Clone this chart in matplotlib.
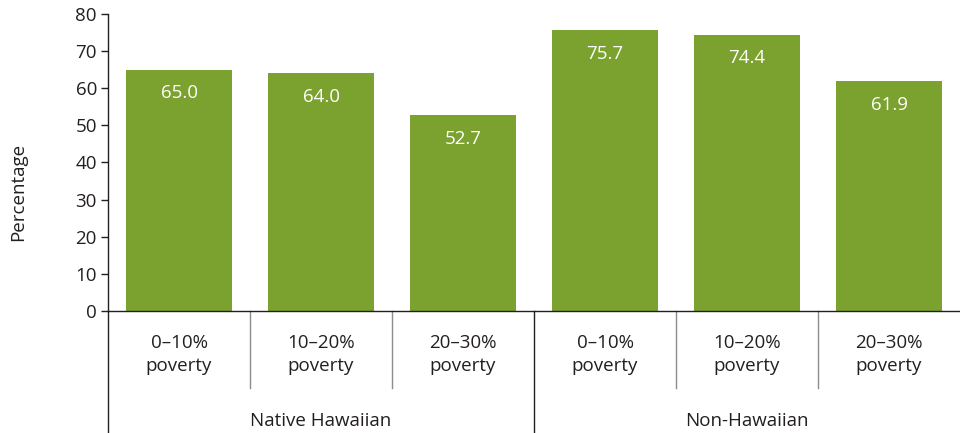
import matplotlib.pyplot as plt
import matplotlib.transforms as mtransforms
import numpy as np

groups = ["Native Hawaiian", "Non-Hawaiian"]
categories = ["0\u201310%\npoverty", "10\u201320%\npoverty", "20\u201330%\npoverty"]
values_native = [65.0, 64.0, 52.7]
values_non = [75.7, 74.4, 61.9]

plt.rcParams["font.family"] = ["Open Sans", "DejaVu Sans"]

GREEN = "#7ba12f"
TEXT = "#231f20"
FS = 13.5

values = values_native + values_non
labels = categories * len(groups)
x = np.arange(len(values))

fig = plt.figure(figsize=(9.6, 4.33), dpi=100)
ax = fig.add_axes([0.1125, 0.2818, 0.8875, 0.686])

ax.bar(x, values, width=0.75, color=GREEN)
for xi, v in zip(x, values):
    ax.annotate(f"{v:.1f}", (xi, v), xytext=(0, -17), textcoords="offset points",
                ha="center", va="center", color="white", fontsize=FS)

ax.set_xlim(-0.5, len(values) - 0.5)
ax.set_ylim(0, 80)
ax.set_yticks(np.arange(0, 81, 10))
ax.tick_params(axis="y", labelsize=FS, length=5, width=1, colors=TEXT, pad=3)
ax.set_xticks([])
for s in ("top", "right"):
    ax.spines[s].set_visible(False)
for s in ("left", "bottom"):
    ax.spines[s].set_color(TEXT)
    ax.spines[s].set_linewidth(1)

ax.set_ylabel("Percentage", fontsize=FS, color=TEXT)
ax.yaxis.set_label_coords(-0.095, 0.4)

trans = mtransforms.blended_transform_factory(ax.transData, ax.transAxes)

# category labels and separators
for xi, lab in zip(x, labels):
    ax.text(xi, -0.148, lab, transform=trans, ha="center", va="center",
            fontsize=FS, color=TEXT, linespacing=1.35)
n = len(categories)
for b in np.arange(0.5, len(values) - 0.5, 1.0):
    if int(b + 0.5) % n == 0:
        continue
    ax.plot([b, b], [0, -0.259], transform=trans, color="#8c8c8c", lw=1, clip_on=False)

# group separators and labels
for gi, g in enumerate(groups):
    ax.text(gi * n + (n - 1) / 2, -0.372, g, transform=trans, ha="center", va="center",
            fontsize=FS, color=TEXT)
for gi in range(len(groups)):
    b = gi * n - 0.5
    ax.plot([b, b], [0, -0.42], transform=trans, color=TEXT, lw=1, clip_on=False)

fig.savefig("out.png", dpi=100)
